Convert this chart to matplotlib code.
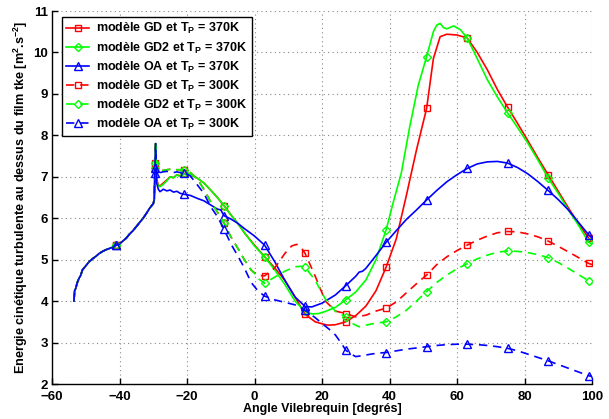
import numpy as np
import matplotlib
matplotlib.use("Agg")
import matplotlib.pyplot as plt

plt.rcParams['font.family'] = ['Liberation Sans', 'DejaVu Sans']
plt.rcParams['font.weight'] = 'bold'
plt.rcParams['mathtext.fontset'] = 'custom'
plt.rcParams['mathtext.rm'] = 'Liberation Sans:bold'
plt.rcParams['mathtext.bf'] = 'Liberation Sans:bold'
plt.rcParams['mathtext.it'] = 'Liberation Sans:bold'

# ---------------- data ----------------
x_early = [-53.5, -53.3, -53.0, -52.5, -52.0, -51.5, -51.0, -50.0, -49.0, -48.0, -47.0,
           -46.0, -45.0, -44.0, -43.0, -42.0, -41.0, -40.0, -39.0, -38.0, -37.0, -36.0,
           -35.0, -34.0, -33.0, -32.0, -31.0, -30.5, -30.0, -29.7]
y_early = [4.0, 4.25, 4.3, 4.45, 4.55, 4.62, 4.75, 4.85, 4.95, 5.02, 5.08,
           5.15, 5.2, 5.24, 5.27, 5.3, 5.35, 5.38, 5.45, 5.52, 5.62, 5.7,
           5.8, 5.9, 6.0, 6.12, 6.25, 6.3, 6.35, 6.45]

x_gd370 = [-29.5, -29.3, -29.0, -28.5, -28, -27, -26, -25, -24, -23, -22, -21, -19, -17, -15,
           -13, -11, -9, -7, -5, -3, 0, 3, 6, 9, 12, 15, 18, 21, 22, 24, 27, 30, 33, 36,
           39, 42, 45, 48, 51, 53, 55, 57, 60, 63, 66, 69, 72, 75, 78, 81, 84, 87, 90,
           93, 96, 99, 100]
y_gd370 = [7.2, 7.75, 6.95, 6.8, 6.78, 6.85, 6.92, 7.0, 6.98, 7.05, 7.02, 7.08, 7.05, 6.97,
           6.85, 6.68, 6.5, 6.3, 6.08, 5.88, 5.65, 5.35, 5.07, 4.8, 4.5, 4.1, 3.68, 3.5,
           3.43, 3.42, 3.43, 3.5, 3.65, 3.88, 4.25, 4.82, 5.5, 6.55, 7.65, 8.65, 9.85,
           10.38, 10.44, 10.42, 10.35, 10.0, 9.58, 9.1, 8.68, 8.28, 7.87, 7.45, 7.05,
           6.65, 6.25, 5.87, 5.52, 5.45]

x_gd2_370 = [-29.5, -29.3, -29.0, -28.5, -28, -27, -26, -25, -24, -23, -22, -21, -19, -17,
             -15, -13, -11, -9, -7, -5, -3, 0, 3, 6, 9, 12, 15, 17, 19, 21, 24, 27, 30,
             33, 36, 39, 41, 43.5, 46, 48.5, 51, 53, 54, 55, 56, 57, 59, 61, 63, 66, 69,
             72, 75, 78, 81, 84, 87, 90, 93, 96, 99, 100]
y_gd2_370 = [7.2, 7.8, 6.9, 6.78, 6.76, 6.82, 6.9, 7.0, 6.97, 7.05, 7.0, 7.08, 7.05, 6.97,
             6.85, 6.68, 6.5, 6.3, 6.08, 5.88, 5.65, 5.33, 5.07, 4.75, 4.4, 4.0, 3.75,
             3.69, 3.7, 3.75, 3.85, 4.03, 4.22, 4.51, 5.0, 5.72, 6.35, 7.09, 8.21, 9.2,
             9.9, 10.5, 10.66, 10.7, 10.6, 10.57, 10.64, 10.55, 10.35, 9.85, 9.34, 8.92,
             8.54, 8.18, 7.81, 7.4, 6.97, 6.6, 6.2, 5.83, 5.42, 5.38]

x_oa370 = [-29.5, -29.3, -29.0, -28.5, -28, -27, -26, -25, -24, -23, -22, -21, -19, -17,
           -15, -13, -11, -10, -9, -7, -5, -3, 0, 3, 6, 9, 12, 15, 17, 20, 24, 27, 30,
           31, 32, 33, 36, 39, 42, 45, 48, 51, 54, 57, 60, 63, 66, 69, 72, 75, 78, 81,
           84, 87, 90, 93, 96, 99, 100]
y_oa370 = [7.09, 7.7, 6.85, 6.7, 6.64, 6.7, 6.66, 6.68, 6.63, 6.65, 6.6, 6.58, 6.55, 6.48,
           6.42, 6.32, 6.22, 6.2, 6.06, 5.98, 5.88, 5.75, 5.57, 5.35, 4.95, 4.5, 4.1,
           3.87, 3.86, 3.95, 4.15, 4.37, 4.6, 4.7, 4.72, 4.79, 5.1, 5.42, 5.7, 5.97,
           6.2, 6.44, 6.67, 6.88, 7.05, 7.2, 7.31, 7.36, 7.37, 7.33, 7.22, 7.07, 6.88,
           6.67, 6.45, 6.2, 5.9, 5.6, 5.52]

x_gd300 = [-29.5, -29.3, -29.0, -28, -27, -26, -25, -24, -23, -22, -21, -19, -17, -15, -13,
           -11, -9, -7, -5, -3, -1, 1, 3, 6, 9, 11, 12.5, 14, 15, 18, 21, 24, 27, 30, 33,
           36, 39, 42, 45, 48, 51, 54, 57, 60, 63, 66, 69, 72, 75, 78, 81, 84, 87, 90,
           93, 96, 99, 100]
y_gd300 = [7.33, 7.85, 7.2, 7.17, 7.15, 7.17, 7.18, 7.18, 7.17, 7.17, 7.17, 7.1, 6.95,
           6.7, 6.4, 6.15, 5.88, 5.55, 5.28, 5.0, 4.75, 4.62, 4.61, 4.8, 5.15, 5.33,
           5.37, 5.27, 5.15, 4.6, 4.0, 3.76, 3.70, 3.62, 3.66, 3.76, 3.83, 3.98, 4.2,
           4.42, 4.63, 4.88, 5.07, 5.22, 5.35, 5.47, 5.57, 5.65, 5.68, 5.67, 5.62,
           5.55, 5.45, 5.32, 5.19, 5.05, 4.91, 4.88]

x_gd2_300 = [-29.5, -29.3, -29.0, -28, -27, -26, -25, -24, -23, -22, -21, -19, -17, -15,
             -13, -11, -9, -7, -5, -3, -1, 0, 1, 3, 6, 9, 12, 14, 15, 18, 21, 24, 27, 29,
             31, 33, 36, 39, 42, 45, 48, 51, 54, 57, 60, 63, 66, 69, 72, 75, 78, 81, 84,
             87, 90, 93, 96, 99, 100]
y_gd2_300 = [7.33, 7.85, 7.2, 7.17, 7.15, 7.17, 7.18, 7.18, 7.17, 7.17, 7.17, 7.1, 6.95,
             6.7, 6.4, 6.15, 5.88, 5.55, 5.28, 5.0, 4.75, 4.67, 4.55, 4.43, 4.58, 4.72,
             4.83, 4.84, 4.82, 4.5, 4.05, 3.75, 3.62, 3.46, 3.38, 3.42, 3.47, 3.50, 3.62,
             3.78, 4.0, 4.23, 4.45, 4.63, 4.78, 4.90, 5.02, 5.11, 5.18, 5.21, 5.2, 5.17,
             5.12, 5.05, 4.93, 4.79, 4.64, 4.49, 4.45]

x_oa300 = [-29.5, -29.3, -29.0, -28, -27, -26, -25, -24, -23, -22, -21, -19, -17, -15, -13,
           -11, -9, -7, -5, -3, -1, 1, 3, 6, 9, 12, 15, 18, 20, 22, 24, 26, 27, 28, 30,
           33, 36, 39, 42, 45, 48, 51, 54, 57, 60, 63, 66, 69, 72, 75, 78, 81, 84, 87,
           90, 93, 96, 99, 100]
y_oa300 = [7.2, 7.8, 7.05, 7.1, 7.12, 7.13, 7.12, 7.1, 7.12, 7.1, 7.1, 7.02, 6.81, 6.6,
           6.28, 6.04, 5.73, 5.38, 5.1, 4.8, 4.45, 4.25, 4.12, 4.03, 3.97, 3.91, 3.78,
           3.6, 3.46, 3.33, 3.18, 2.95, 2.82, 2.75, 2.66, 2.70, 2.74, 2.76, 2.8, 2.84,
           2.87, 2.90, 2.93, 2.95, 2.96, 2.96, 2.95, 2.93, 2.9, 2.86, 2.8, 2.72, 2.64,
           2.56, 2.47, 2.38, 2.29, 2.20, 2.18]

marker_angles = [-41, -29.5, -21, -9, 3, 15, 27, 39, 51, 63, 75, 87, 99]

labels = [r'modèle GD et T$_\mathbf{P}$ = 370K',
          r'modèle GD2 et T$_\mathbf{P}$ = 370K',
          r'modèle OA et T$_\mathbf{P}$ = 370K',
          r'modèle GD et T$_\mathbf{P}$ = 300K',
          r'modèle GD2 et T$_\mathbf{P}$ = 300K',
          r'modèle OA et T$_\mathbf{P}$ = 300K']

series = [(x_gd370, y_gd370), (x_gd2_370, y_gd2_370), (x_oa370, y_oa370),
          (x_gd300, y_gd300), (x_gd2_300, y_gd2_300), (x_oa300, y_oa300)]
colors = ['#ff0000', '#00ff00', '#0000ff', '#ff0000', '#00ff00', '#0000ff']
markers = ['s', 'D', '^', 's', 'D', '^']
msizes = [5, 4.2, 6, 5, 4.2, 6]
styles = ['-', '-', '-', (0, (5, 3.5)), (0, (5, 3.5)), (0, (5, 3.5))]

# ---------------- figure ----------------
fig = plt.figure(figsize=(6.09, 4.19), dpi=100)
ax = fig.add_axes([52 / 609, 1 - 384 / 419, 540 / 609, 373 / 419])

for (xs, ys), c, m, ms, ls, lab in zip(series, colors, markers, msizes, styles, labels):
    xx = np.array(x_early + xs, dtype=float)
    yy = np.array(y_early + ys, dtype=float)
    idx = [int(np.argmin(np.abs(xx - a))) for a in marker_angles]
    ax.plot(xx, yy, color=c, linestyle=ls, linewidth=1.2, marker=m, markersize=ms,
            markerfacecolor='none', markeredgecolor=c, markeredgewidth=1.0,
            markevery=idx, label=lab)

ax.set_xlim(-60, 100)
ax.set_ylim(2, 11)
ax.set_xticks(np.arange(-60, 101, 20))
ax.set_yticks(np.arange(2, 12, 1))
ax.grid(True, linestyle=(0, (1, 3)), color='#888888', linewidth=0.8)
ax.spines['top'].set_visible(False)
ax.spines['right'].set_visible(False)
for s in ['left', 'bottom']:
    ax.spines[s].set_linewidth(1.0)
ax.tick_params(direction='in', length=4, width=1, labelsize=9.5)
ax.tick_params(axis='x', pad=5)
ax.tick_params(axis='y', pad=3)
for lbl in ax.get_xticklabels() + ax.get_yticklabels():
    lbl.set_fontweight('bold')

ax.set_xlabel('Angle Vilebrequin [degrés]', fontsize=9, fontweight='bold', labelpad=0)
ax.set_ylabel(r'Energie cinétique turbulente au dessus du film tke [m$^\mathbf{2}$.s$^\mathbf{-2}$]',
              fontsize=9.1, fontweight='bold', labelpad=2)

leg = ax.legend(loc='upper left', bbox_to_anchor=(10 / 540, 1 - 6 / 373), borderaxespad=0,
                prop={'weight': 'bold', 'size': 9}, frameon=True, fancybox=False,
                edgecolor='black', framealpha=1, handlelength=1.8, handletextpad=0.6,
                labelspacing=0.32, borderpad=0.35)
leg.get_frame().set_linewidth(1.0)

fig.savefig('out.png', dpi=100)
